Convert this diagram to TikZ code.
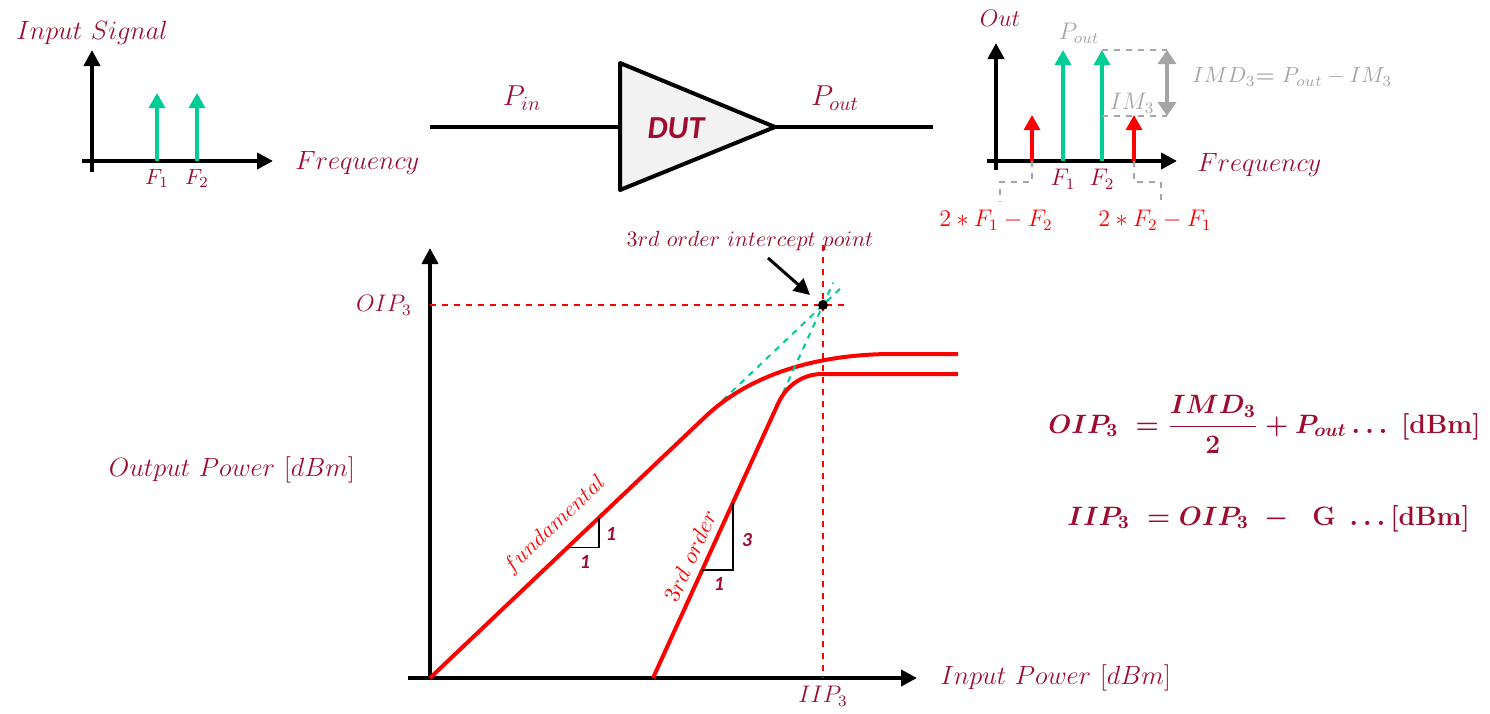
\RequirePackage{fix-cm}
\documentclass[tikz,border=0pt]{standalone}
\usepackage{fontspec}
\newfontfamily\calibri{Carlito}
\usetikzlibrary{arrows.meta,positioning,calc}
\definecolor{wine}{RGB}{158,12,48}
\definecolor{mint}{RGB}{0,204,150}
\definecolor{ash}{RGB}{165,165,165}
\definecolor{dutgray}{RGB}{242,242,242}

\begin{document}
\begin{tikzpicture}[x=0.5pt,y=-0.5pt,
    axis/.style={black,line width=2pt,-{Triangle[length=8pt,width=8pt]}},
    tone/.style={mint,line width=1.6pt,-{Triangle[length=7.5pt,width=8pt]}},
    imd/.style={red,line width=1.6pt,-{Triangle[length=7.5pt,width=8pt]}},
    lbl/.style={text=wine,font=\fontsize{13.2}{15}\selectfont,inner sep=1pt},
    small/.style={lbl,font=\fontsize{11}{12}\selectfont},
    note/.style={text=ash,font=\fontsize{12}{14}\selectfont,inner sep=1pt},
    formula/.style={text=wine,font=\fontsize{13.3}{16}\selectfont\boldmath,anchor=base west,inner sep=0pt},
    curve/.style={red,line width=2pt},
    guide/.style={red,dashed,line width=0.6pt},
    ext/.style={mint,dashed,line width=1pt},
    bracket/.style={ash,dashed,line width=1pt},
    slopebox/.style={black,line width=0.8pt},
    slopenum/.style={text=wine,font=\calibri\bfseries\itshape\fontsize{10}{11}\selectfont}]
  \useasboundingbox (0,0) rectangle (1490,713);

  % input spectrum
  \coordinate (inY0) at (92,172); \coordinate (inY1) at (92,50);
  \coordinate (inX0) at (82,161); \coordinate (inX1) at (273,161);
  \draw[axis] (inY0) -- (inY1);
  \draw[axis] (inX0) -- (inX1);
  \foreach \x/\n in {157/1,197/2}{
    \coordinate (inF\n) at (\x,161);
    \draw[tone] (inF\n) -- ++(0,-68);
    \node[small,below=3pt of inF\n] {$F_\n$};
  }
  \node[lbl,anchor=west] (inlabel) at (14,33) {$Input\ Signal$};
  \node[lbl,anchor=west] (infreq) at (293,163) {$Frequency$};

  % amplifier
  \coordinate (pinA) at (430,127); \coordinate (dutL) at (620,127);
  \coordinate (dutR) at (775,127); \coordinate (poutB) at (933,127);
  \draw[line width=2pt,fill=dutgray,line join=round] (620,63) -- (dutR) -- (620,190) -- cycle;
  \draw[line width=2pt] (pinA) -- (dutL);
  \draw[line width=2pt] (dutR) -- (poutB);
  \node[text=wine,font=\calibri\bfseries\itshape\fontsize{16}{18}\selectfont] (dut) at (676,128) {DUT};
  \node[lbl,font=\fontsize{14.4}{17}\selectfont] (pin) at (522,98) {$P_{in}$};
  \node[lbl,font=\fontsize{14.4}{17}\selectfont] (pout) at (835,98) {$P_{out}$};

  % output spectrum
  \coordinate (outY0) at (996,170); \coordinate (outY1) at (996,43);
  \coordinate (outX0) at (987,161); \coordinate (outX1) at (1177,161);
  \draw[axis] (outY0) -- (outY1);
  \draw[axis] (outX0) -- (outX1);
  \foreach \x/\n in {1063/1,1102/2}{
    \coordinate (outF\n) at (\x,161);
    \draw[tone] (outF\n) -- ++(0,-111);
    \node[small,font=\fontsize{12}{13}\selectfont,below=3pt of outF\n] {$F_\n$};
  }
  \coordinate (imL) at (1032,161); \coordinate (imR) at (1134,161);
  \draw[imd] (imL) -- ++(0,-46);
  \draw[imd] (imR) -- ++(0,-46);
  \coordinate (topR) at (1167,50); \coordinate (lowR) at (1167,116);
  \draw[bracket] (1102,50) -- (topR);
  \draw[bracket] (1102,116) -- (lowR);
  \draw[ash,line width=2pt,{Triangle[length=7pt,width=9pt]}-{Triangle[length=7pt,width=9pt]}] (topR) -- (lowR);
  \draw[bracket] (imL) -- ++(0,21) -| (1000,202);
  \draw[bracket] (imR) -- ++(0,21) -| (1161,202);
  \node[text=red,font=\fontsize{12}{14}\selectfont] (lowlbl) at (996,220) {$2\ast F_1-F_2$};
  \node[text=red,font=\fontsize{12}{14}\selectfont] (uplbl) at (1155,220) {$2\ast F_2-F_1$};
  \node[lbl,font=\fontsize{12}{14}\selectfont] (outlabel) at (1000,18) {$Out$};
  \node[lbl,anchor=west] (outfreq) at (1195,165) {$Frequency$};
  \node[note] (poutlbl) at (1079,33) {$P_{out}$};
  \node[note] (im3lbl) at (1132,103) {$IM_3$};
  \node[note,font=\fontsize{11}{13}\selectfont,anchor=west] (imdlbl) at (1190,77) {$IMD_3\textbf{=}\ P_{out}-IM_3$};

  % power transfer plot
  \coordinate (O) at (430,678);
  \coordinate (pX0) at (408,678); \coordinate (pX1) at (917,678);
  \coordinate (pY1) at (430,248);
  \draw[axis] (pX0) -- (pX1);
  \draw[axis] (O) -- (pY1);
  \coordinate (ip) at (823,305);
  \coordinate (oipL) at (430,305); \coordinate (oipR) at (845,305);
  \coordinate (iipT) at (823,245); \coordinate (iipB) at (823,678);
  \draw[guide] (oipL) -- (oipR);
  \draw[guide] (iipT) -- (iipB);
  \node[lbl,font=\fontsize{12}{14}\selectfont,anchor=east] (oip) at (414,305) {$OIP_3$};
  \node[lbl,font=\fontsize{12}{14}\selectfont,below=3pt of iipB] (iip) {$IIP_3$};
  \node[lbl,anchor=west] (xlabel) at (938,678) {$Input\ Power\ [dBm]$};
  \node[lbl] (ylabel) at (232,470) {$Output\ Power\ [dBm]$};

  \coordinate (f1) at ($(O)!0.70!(ip)$);
  \draw[ext] (f1) -- ($(O)!1.05!(ip)$);
  \draw[curve] (O) -- (f1) .. controls ($(O)!0.83!(ip)$) and (830,354) .. (893,354) -- (958,354);
  \coordinate (t0) at (653,678);
  \coordinate (t1) at ($(t0)!0.735!(ip)$);
  \draw[ext] (t1) -- ($(t0)!1.06!(ip)$);
  \draw[curve] (t0) -- (t1) .. controls ($(t0)!0.79!(ip)$) and (805,374) .. (822,374) -- (958,374);
  \node[circle,fill=black,inner sep=0pt,minimum size=5pt] (ipdot) at (ip) {};

  \node[small] (iplabel) at (750,241) {$3rd\ order\ intercept\ point$};
  \coordinate (arrS) at (768,258); \coordinate (arrE) at (810,295);
  \draw[line width=1.5pt,-{Triangle[length=8pt,width=8pt]}] (arrS) -- (arrE);

  \node[text=red,rotate=43.5,font=\fontsize{11}{13}\selectfont,inner sep=1pt] (fundlbl) at (555,525) {$fundamental$};
  \node[text=red,rotate=65.5,font=\fontsize{11.5}{13}\selectfont,inner sep=1pt] (thirdlbl) at (690,556) {$3rd\ order$};

  \coordinate (s1a) at ($(O)!0.35!(ip)$); \coordinate (s1b) at ($(O)!0.43!(ip)$);
  \draw[slopebox] (s1a) -- (s1a -| s1b) -- (s1b);
  \coordinate (s3a) at ($(t0)!0.29!(ip)$); \coordinate (s3b) at ($(t0)!0.47!(ip)$);
  \draw[slopebox] (s3a) -- (s3a -| s3b) -- (s3b);
  \node[slopenum] at (585,562) {1};
  \node[slopenum] at (611,534) {1};
  \node[slopenum] at (719,584) {1};
  \node[slopenum] at (747,540) {3};

  % formulas
  \node[formula] (oipeq) at (1048,433) {$OIP_3\ ={\displaystyle\frac{IMD_3}{2}}+P_{out}\ldots\ [\mathbf{dBm}]$};
  \node[formula] (iipeq) at (1067,525) {$IIP_3\ =OIP_3\ -\ \ \mathbf{G}\ \ldots[\mathbf{dBm}]$};
\end{tikzpicture}
\end{document}
